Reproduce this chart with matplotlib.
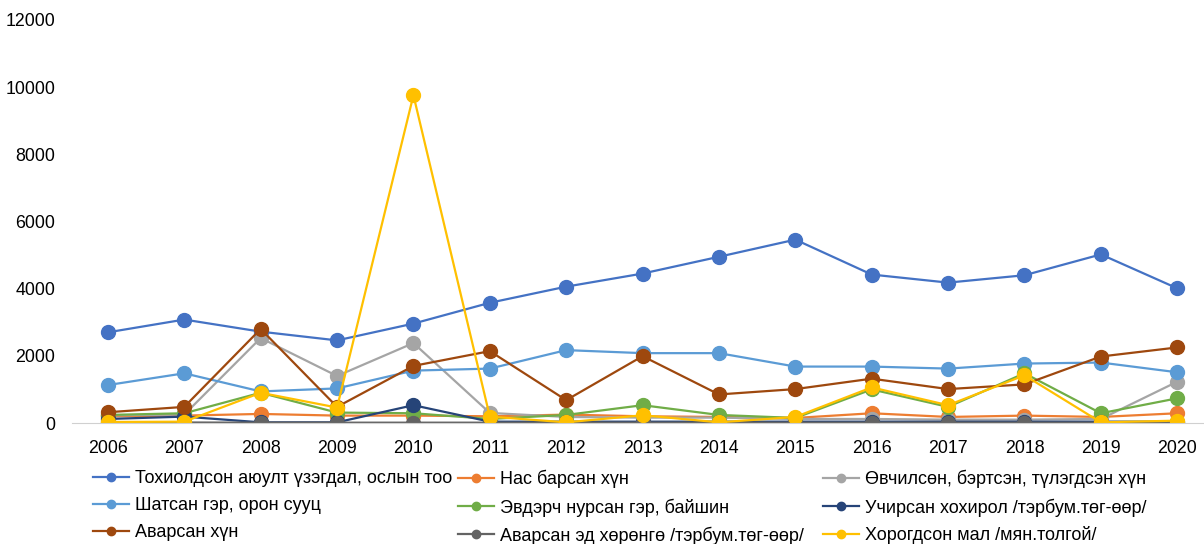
import matplotlib.pyplot as plt

plt.rcParams['font.family'] = ['Liberation Sans', 'DejaVu Sans']

years = ['2006', '2007', '2008', '2009', '2010', '2011', '2012', '2013',
         '2014', '2015', '2016', '2017', '2018', '2019', '2020']

labels = [
    'Тохиолдсон аюулт үзэгдал, ослын тоо',
    'Нас барсан хүн',
    'Өвчилсөн, бэртсэн, түлэгдсэн хүн',
    'Шатсан гэр, орон сууц',
    'Эвдэрч нурсан гэр, байшин',
    'Учирсан хохирол /тэрбум.төг-өөр/',
    'Аварсан хүн',
    'Аварсан эд хөрөнгө /тэрбум.төг-өөр/',
    'Хорогдсон мал /мян.толгой/',
]

accidents = [2700, 3080, 2720, 2460, 2960, 3580, 4060, 4450, 4950, 5460, 4420, 4180, 4400, 5020, 4010]
deaths = [200, 220, 270, 220, 220, 200, 250, 200, 180, 150, 290, 180, 220, 180, 290]
injured = [230, 250, 2530, 1400, 2380, 300, 180, 160, 160, 120, 120, 100, 100, 120, 1230]
burned = [1130, 1480, 940, 1030, 1560, 1620, 2170, 2080, 2080, 1680, 1680, 1620, 1770, 1800, 1510]
damaged = [240, 290, 900, 310, 290, 120, 240, 530, 240, 150, 1000, 480, 1480, 290, 735]
loss = [120, 190, 20, 20, 530, 40, 40, 40, 40, 40, 40, 40, 40, 40, 40]
rescued_people = [320, 480, 2800, 480, 1700, 2140, 680, 1990, 850, 1010, 1320, 1010, 1150, 1980, 2250]
rescued_property = [15, 15, 10, 10, 10, 10, 10, 10, 10, 10, 10, 10, 10, 10, 10]
livestock = [30, 40, 900, 460, 9760, 190, 20, 230, 20, 180, 1060, 530, 1420, 20, 70]

series = [accidents, deaths, injured, burned, damaged, loss,
          rescued_people, rescued_property, livestock]
colors = ['#4472C4', '#ED7D31', '#A5A5A5', '#5B9BD5', '#70AD47',
          '#264478', '#9E480E', '#636363', '#FFC000']

fig = plt.figure(figsize=(12.04, 5.44), dpi=100)
ax = fig.add_axes([72 / 1204, 1 - 423 / 544, 1 - 72 / 1204, (423 - 20) / 544])

x = range(len(years))
handles = []
for vals, col, lab in zip(series, colors, labels):
    h, = ax.plot(x, vals, color=col, lw=1.6, marker='o', markersize=10,
                 markeredgecolor=col, label=lab)
    handles.append(h)

ax.set_xlim(-0.47, 14.35)
ax.set_ylim(0, 12000)
ax.set_yticks(range(0, 12001, 2000))
ax.set_xticks(list(x))
ax.set_xticklabels(years)
ax.tick_params(length=0, labelsize=12.8, colors='black')
ax.tick_params(axis='y', pad=12)
ax.tick_params(axis='x', pad=12.5)
for s in ['top', 'right', 'left']:
    ax.spines[s].set_visible(False)
ax.spines['bottom'].set_color('#D0D0D0')

# legend: 3 equal-width columns, filled row by row
col_x = [93, 458, 823]
for c in range(3):
    idx = [c, c + 3, c + 6]
    leg = fig.legend([handles[i] for i in idx], [labels[i] for i in idx],
                     loc='upper left', bbox_to_anchor=(col_x[c] / 1204, 1 - 470 / 544),
                     frameon=False, fontsize=13, handlelength=2.0, handletextpad=0.3,
                     labelspacing=0.55, borderpad=0, borderaxespad=0,
                     markerscale=0.6)

plt.savefig('out.png', dpi=100)
